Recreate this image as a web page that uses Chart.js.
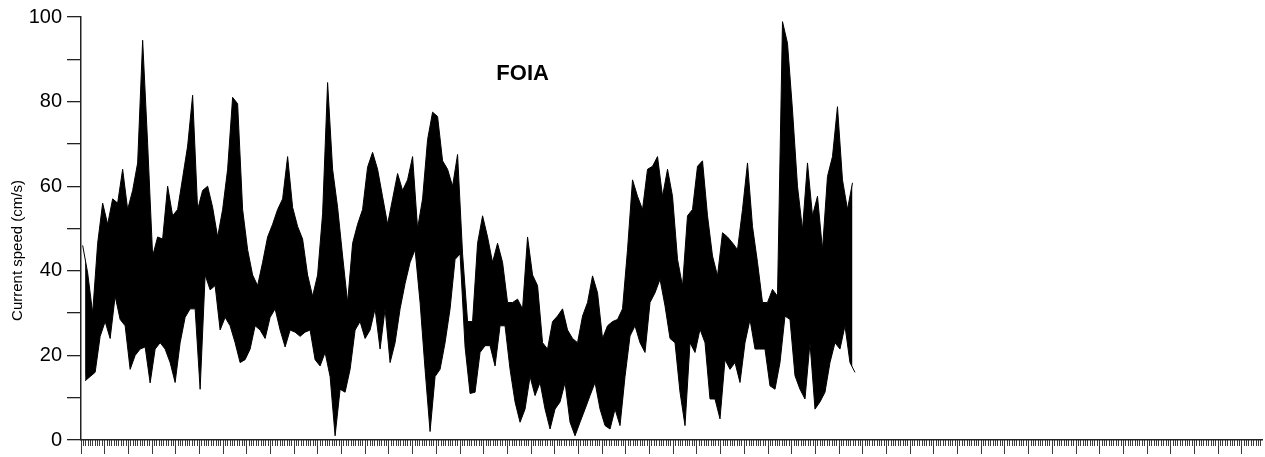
<!DOCTYPE html>
<html>
<head>
<meta charset="utf-8">
<title>FOIA current speed</title>
<script src="https://cdn.jsdelivr.net/npm/chart.js@4.4.1/dist/chart.umd.min.js"></script>
<style>
    html, body { margin: 0; padding: 0; background: #ffffff; }
    #chartBox { width: 1265px; height: 457px; }
</style>
</head>
<body>
<div id="chartBox"><canvas id="chartCanvas" width="1265" height="457"></canvas></div>
<script>
// Station name shown inside the plot
const stationName = "FOIA";
const yAxisTitle = "Current speed (cm/s)";

// Sampling of the record along the time axis (days)
const firstDay = 0.7;
const stepDays = 2.11;

// Upper and lower speed (cm/s) of each sample window
const hiSpeed = [
    46, 39.5, 30, 46.5, 56, 51, 57, 56, 64, 54.5, 59, 65.5, 94.5,
    70, 43.5, 48, 47.5, 60, 53, 54.5, 62, 69.5, 81.5, 54.5, 59, 60,
    55, 48, 54.5, 64, 81, 79.5, 54.5, 45, 39, 36.5, 42, 48, 51,
    54.5, 57, 67, 55, 50.5, 47.5, 39, 34, 39, 53.5, 84.5, 64, 55,
    43.5, 32.5, 46.5, 51, 54.5, 64.5, 68, 64, 57.5, 51, 57, 63, 59,
    61.5, 67, 50, 57, 71, 77.5, 76.5, 66, 64, 60, 67.5, 44, 28,
    28, 46.5, 53, 48, 42, 46.5, 42, 32.5, 32.5, 33.3, 31, 48, 39,
    36.5, 23, 21.5, 28, 29.3, 31, 26, 24, 23, 29.3, 32.5, 38.8, 34.8,
    24, 27, 28, 28.5, 31, 45, 61.5, 57.6, 54.5, 64, 64.7, 67, 57.6,
    64, 57.6, 42.7, 36.4, 53, 54.5, 64.7, 66, 53, 43.5, 38.8, 49, 48,
    46.6, 45, 54.5, 65.5, 50.5, 42, 32.5, 32.5, 35.6, 34, 98.9, 93.8, 78,
    60, 49.7, 65.5, 53, 57.6, 45, 62.3, 67, 78.8, 61.5, 54.5, 60.8
];
const loSpeed = [
    14, 15, 16, 24.5, 28, 24, 34, 28.5, 27, 16.7, 20, 21.5, 22,
    13.5, 21.5, 23, 21.5, 18.3, 13.6, 23, 29, 31, 31, 12, 39, 35.5,
    36.5, 26, 29, 27, 23, 18.3, 19, 21.5, 27, 26, 24, 29, 31,
    26, 22, 26, 25.5, 24.5, 25.5, 26, 19, 17.5, 20.7, 15, 1, 12,
    11.3, 16.7, 26, 28, 24, 26, 31, 21.5, 31, 18.3, 23, 31, 37,
    42, 45, 32.5, 16.7, 2, 15, 16.7, 23, 31, 42.7, 44, 22, 11,
    11.3, 20.7, 22.3, 22.3, 17.5, 27, 27, 16.7, 9, 4.2, 7.3, 15, 10.5,
    13.6, 7.3, 2.6, 7.3, 9, 13.6, 4.2, 1, 4.2, 7.3, 10.5, 13.6, 7.3,
    3.4, 2.6, 7.3, 3.4, 15, 24.6, 27, 23, 20.7, 32.5, 34.8, 38, 31.7,
    24, 23, 11.3, 3.4, 23, 20.7, 26.2, 23, 9.7, 9.7, 5, 19, 16.7,
    18.3, 13.6, 23, 28.5, 21.5, 21.5, 21.5, 12.8, 12, 18.3, 29.3, 28.5, 15.2,
    12, 9.7, 23, 7.3, 9, 11.3, 18.3, 23, 21.5, 27, 18.3, 16
];

// Axis ranges and ticks
const dayMin = 0;
const dayMax = 498.5;
const majorDayStep = 10;
const minorDayStep = 1;
const speedMin = 0;
const speedMax = 100;
const speedStep = 10;
const speedLabelStep = 20;

// Where the station name and the axis title sit, in data units
const stationNameAt = { day: 186.4, speed: 86.6 };
const axisTitleSpeed = 44.8;

const fontFamily = '"Liberation Sans", Arial, Helvetica, sans-serif';

/**
 * @brief Top edge of the record: the highest speed of each window.
 */
function buildUpperTrace() {
    return hiSpeed.map((v, i) => ({ x: firstDay + i * stepDays, y: v }));
}

/**
 * @brief Bottom edge of the record: the lowest speed of each window.
 */
function buildLowerTrace() {
    return loSpeed.map((v, i) => ({ x: firstDay + i * stepDays + stepDays / 2, y: v }));
}

// Draws the station name and the rotated axis title
const textPlugin = {
    id: "textPlugin",
    afterDraw(chart) {
        const ctx = chart.ctx;
        const xScale = chart.scales.x;
        const yScale = chart.scales.y;

        ctx.save();
        ctx.fillStyle = "#000000";
        ctx.textAlign = "center";
        ctx.textBaseline = "middle";
        ctx.font = "bold 22px " + fontFamily;
        ctx.fillText(stationName,
            xScale.getPixelForValue(stationNameAt.day),
            yScale.getPixelForValue(stationNameAt.speed));

        ctx.font = "15px " + fontFamily;
        ctx.translate(18, yScale.getPixelForValue(axisTitleSpeed));
        ctx.rotate(-Math.PI / 2);
        ctx.fillText(yAxisTitle, 0, 0);
        ctx.restore();
    }
};

const lineStyle = {
    borderColor: "#000000",
    borderWidth: 1,
    pointRadius: 0,
    tension: 0,
    xAxisID: "x",
    yAxisID: "y"
};

const ctx = document.getElementById("chartCanvas").getContext("2d");
const chart = new Chart(ctx, {
    type: "line",
    data: {
        datasets: [
            Object.assign({
                label: stationName,
                data: buildUpperTrace(),
                fill: "+1",
                backgroundColor: "#000000"
            }, lineStyle),
            Object.assign({
                label: stationName + " low",
                data: buildLowerTrace(),
                fill: false
            }, lineStyle)
        ]
    },
    options: {
        animation: false,
        responsive: false,
        devicePixelRatio: 1,
        layout: {
            padding: { top: 17, right: 3, left: 0, bottom: 0 }
        },
        plugins: {
            legend: { display: false },
            tooltip: { enabled: false },
            title: { display: false },
            filler: { propagate: false }
        },
        scales: {
            x: {
                type: "linear",
                position: "bottom",
                min: dayMin,
                max: dayMax,
                bounds: "data",
                afterFit: scale => { scale.height = 16; },
                ticks: {
                    display: false,
                    stepSize: majorDayStep,
                    includeBounds: false
                },
                grid: {
                    drawOnChartArea: false,
                    tickLength: 14,
                    color: "#3a3a3a",
                    lineWidth: 1
                },
                border: {
                    display: true,
                    color: "#222222",
                    width: 1.5
                }
            },
            x2: {
                type: "linear",
                position: { y: 0 },
                min: dayMin,
                max: dayMax,
                bounds: "data",
                ticks: {
                    display: false,
                    stepSize: minorDayStep,
                    includeBounds: false
                },
                grid: {
                    drawOnChartArea: false,
                    tickLength: 6,
                    color: "#3a3a3a",
                    lineWidth: 1
                },
                border: { display: false }
            },
            y: {
                type: "linear",
                position: "left",
                min: speedMin,
                max: speedMax,
                afterFit: scale => { scale.width = 81; },
                ticks: {
                    stepSize: speedStep,
                    padding: 5,
                    color: "#000000",
                    font: { family: fontFamily, size: 20 },
                    callback: value => (value % speedLabelStep === 0 ? value : "")
                },
                grid: {
                    drawOnChartArea: false,
                    tickLength: 14,
                    color: "#222222",
                    lineWidth: 1.3
                },
                border: {
                    display: true,
                    color: "#222222",
                    width: 1.5
                }
            }
        }
    },
    plugins: [textPlugin]
});
</script>
</body>
</html>
